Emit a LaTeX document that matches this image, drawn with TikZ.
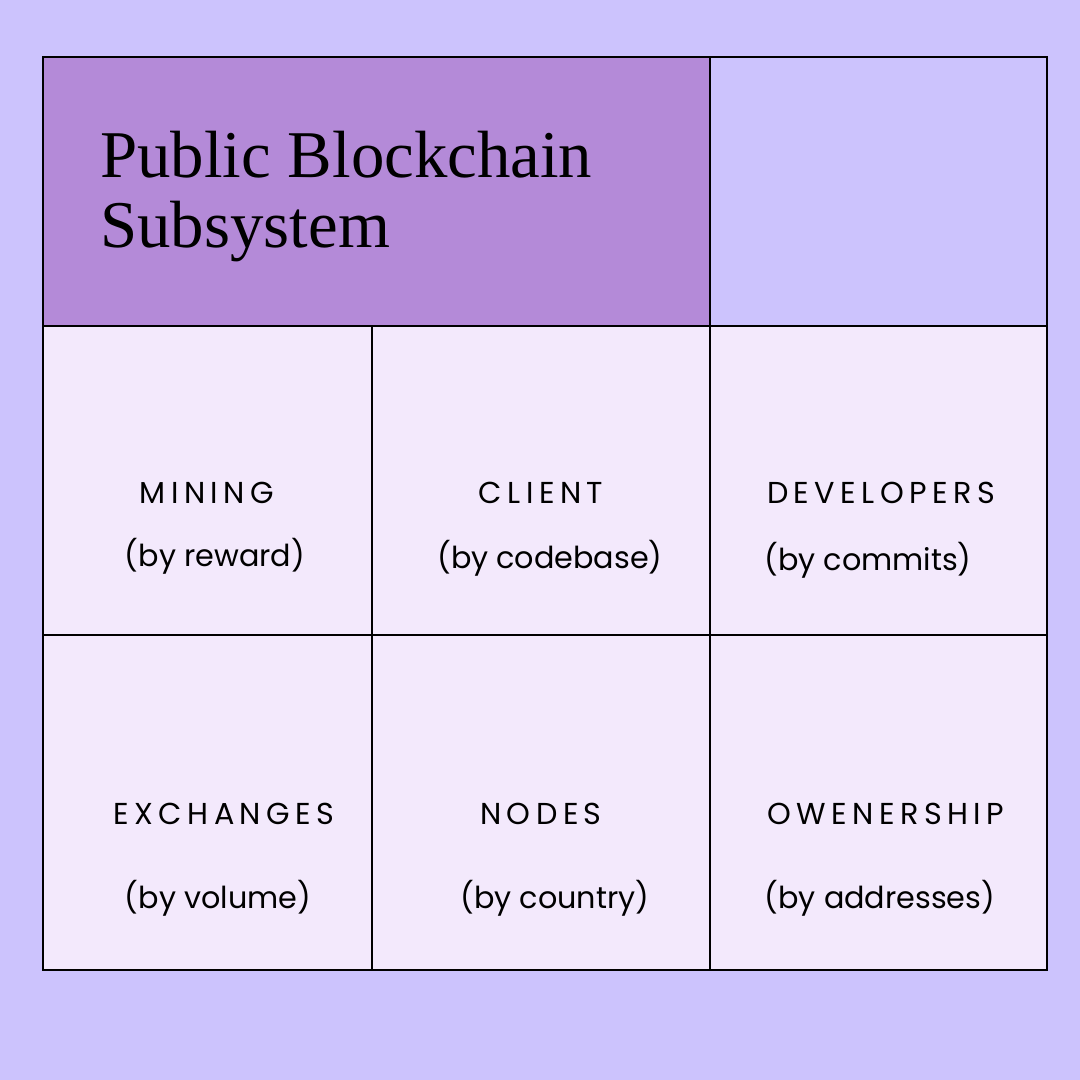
\documentclass[tikz,border=0pt]{standalone}
\usepackage{fontspec}
\setmainfont{Poppins}
\newfontfamily\titlefont{Liberation Serif}
\newfontfamily\capsfont[LetterSpace=18]{Poppins}
\definecolor{bgviolet}{HTML}{CCC3FD}
\definecolor{titleviolet}{HTML}{B48AD8}
\definecolor{cellpink}{HTML}{F3E9FC}
\tikzset{
  cellbox/.style={draw=black, line width=0.7pt, fill=cellpink},
  headlabel/.style={font=\capsfont\fontsize{8.6}{10}\selectfont},
  sublabel/.style={font=\fontsize{8.6}{10}\selectfont}
}
\begin{document}
\begin{tikzpicture}[x=0.01cm, y=-0.01cm]
    \fill[bgviolet] (0,0) rectangle (1080,1080);
    \useasboundingbox (0,0) rectangle (1080,1080);
    % top row
    \draw[line width=0.7pt, fill=titleviolet] (43,57) rectangle (710,326);
    \draw[line width=0.7pt, fill=bgviolet] (710,57) rectangle (1047,326);
    \node[anchor=base west, align=left, font=\titlefont\fontsize{19}{20}\selectfont] (title) at (88,178) {Public Blockchain};
    \node[anchor=base west, font=\titlefont\fontsize{19}{20}\selectfont] (title2) at (88,248) {Subsystem};
    % grid cells
    \draw[cellbox] (43,326) rectangle (372,635);
    \draw[cellbox] (372,326) rectangle (710,635);
    \draw[cellbox] (710,326) rectangle (1047,635);
    \draw[cellbox] (43,635) rectangle (372,970);
    \draw[cellbox] (372,635) rectangle (710,970);
    \draw[cellbox] (710,635) rectangle (1047,970);
    % labels
    \node[headlabel] (mining) at (207,493) {MINING};
    \node[sublabel] (miningsub) at (215,556) {(by reward)};
    \node[headlabel] (client) at (541,493) {CLIENT};
    \node[sublabel] (clientsub) at (550,558) {(by codebase)};
    \node[headlabel] (devs) at (881,493) {DEVELOPERS};
    \node[sublabel] (devssub) at (868,560) {(by commits)};
    \node[headlabel] (exch) at (224,814) {EXCHANGES};
    \node[sublabel] (exchsub) at (218,898) {(by volume)};
    \node[headlabel] (nodes) at (541,814) {NODES};
    \node[sublabel] (nodessub) at (555,898) {(by country)};
    \node[headlabel] (owner) at (886,814) {OWENERSHIP};
    \node[sublabel] (ownersub) at (880,898) {(by addresses)};
\end{tikzpicture}
\end{document}
